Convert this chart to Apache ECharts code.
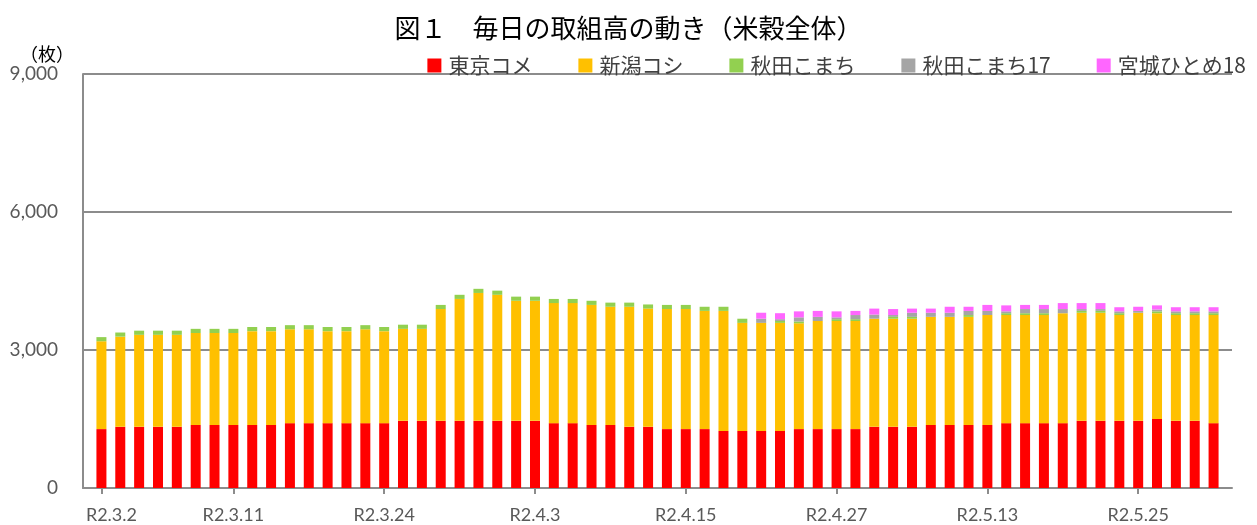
<!DOCTYPE html>
<html>
<head>
<meta charset="utf-8">
<script src="https://cdn.jsdelivr.net/npm/echarts@6/dist/echarts.min.js"></script>
<style>
  html, body { margin: 0; padding: 0; background: #fff; }
  #main { width: 1257px; height: 525px; }
</style>
</head>
<body>
<div id="main"></div>
<script>
// 取引日（R2.3.2 〜 R2.5.29）
const dates = [
    'R2.3.2', 'R2.3.3', 'R2.3.4', 'R2.3.5', 'R2.3.6', 'R2.3.9', 'R2.3.10', 'R2.3.11', 'R2.3.12', 'R2.3.13',
    'R2.3.16', 'R2.3.17', 'R2.3.18', 'R2.3.19', 'R2.3.23', 'R2.3.24', 'R2.3.25', 'R2.3.26', 'R2.3.27', 'R2.3.30',
    'R2.3.31', 'R2.4.1', 'R2.4.2', 'R2.4.3', 'R2.4.6', 'R2.4.7', 'R2.4.8', 'R2.4.9', 'R2.4.10', 'R2.4.13',
    'R2.4.14', 'R2.4.15', 'R2.4.16', 'R2.4.17', 'R2.4.20', 'R2.4.21', 'R2.4.22', 'R2.4.23', 'R2.4.24', 'R2.4.27',
    'R2.4.28', 'R2.4.30', 'R2.5.1', 'R2.5.7', 'R2.5.8', 'R2.5.11', 'R2.5.12', 'R2.5.13', 'R2.5.14', 'R2.5.15',
    'R2.5.18', 'R2.5.19', 'R2.5.20', 'R2.5.21', 'R2.5.22', 'R2.5.25', 'R2.5.26', 'R2.5.27', 'R2.5.28', 'R2.5.29'
];
// 目盛りラベルを出す日
const labelDates = ['R2.3.2', 'R2.3.11', 'R2.3.24', 'R2.4.3', 'R2.4.15', 'R2.4.27', 'R2.5.13', 'R2.5.25'];
// 縦軸の目盛り
const yTicks = [0, 3000, 6000, 9000];

const seriesNames = ['東京コメ', '新潟コシ', '秋田こまち', '秋田こまち17', '宮城ひとめ18'];

const tokyo = [
    1280, 1330, 1330, 1330, 1330, 1370, 1370, 1370, 1370, 1370,
    1410, 1410, 1410, 1410, 1410, 1410, 1460, 1460, 1460, 1460,
    1460, 1460, 1460, 1460, 1410, 1410, 1370, 1370, 1330, 1330,
    1280, 1280, 1280, 1240, 1240, 1240, 1240, 1280, 1280, 1280,
    1280, 1330, 1330, 1330, 1370, 1370, 1370, 1370, 1410, 1410,
    1410, 1410, 1460, 1460, 1460, 1460, 1500, 1460, 1460, 1410
];
const niigata = [
    1910, 1960, 2000, 2000, 2000, 2000, 2000, 2000, 2040, 2040,
    2040, 2040, 2000, 2000, 2040, 2000, 2000, 2000, 2430, 2650,
    2780, 2740, 2610, 2610, 2610, 2610, 2610, 2570, 2610, 2570,
    2610, 2610, 2570, 2610, 2350, 2350, 2350, 2300, 2350, 2350,
    2350, 2350, 2350, 2350, 2350, 2350, 2350, 2390, 2350, 2350,
    2350, 2390, 2350, 2350, 2300, 2350, 2300, 2300, 2300, 2350
];
const akita = [
    90, 90, 90, 90, 90, 90, 90, 90, 90, 90,
    90, 90, 90, 90, 90, 90, 90, 90, 90, 90,
    90, 90, 90, 90, 90, 90, 90, 90, 90, 90,
    90, 90, 90, 90, 90, 0, 40, 40, 0, 40,
    40, 0, 40, 40, 0, 0, 40, 0, 40, 40,
    40, 0, 40, 40, 40, 0, 40, 40, 40, 40
];
const akita17 = [
    0, 0, 0, 0, 0, 0, 0, 0, 0, 0,
    0, 0, 0, 0, 0, 0, 0, 0, 0, 0,
    0, 0, 0, 0, 0, 0, 0, 0, 0, 0,
    0, 0, 0, 0, 0, 90, 40, 90, 90, 40,
    90, 90, 40, 90, 90, 90, 90, 90, 40, 90,
    90, 90, 40, 40, 40, 40, 40, 40, 40, 40
];
const miyagi18 = [
    0, 0, 0, 0, 0, 0, 0, 0, 0, 0,
    0, 0, 0, 0, 0, 0, 0, 0, 0, 0,
    0, 0, 0, 0, 0, 0, 0, 0, 0, 0,
    0, 0, 0, 0, 0, 130, 130, 130, 130, 130,
    90, 130, 130, 90, 90, 130, 90, 130, 130, 90,
    90, 130, 130, 130, 90, 90, 90, 90, 90, 90
];

const colors = ['#FF0000', '#FFC000', '#92D050', '#A5A5A5', '#FF66FF'];
const values = [tokyo, niigata, akita, akita17, miyagi18];

const chart = echarts.init(document.getElementById('main'));

const axisGray = '#8C8C8C';
const labelGray = '#595959';
const numFont = 'Lato, "Noto Sans CJK JP", sans-serif';
const jpFont = '"Noto Sans CJK JP", sans-serif';

// ラベル位置だけ目盛りを出す
const showLabel = function (index, value) {
    return labelDates.indexOf(value) >= 0;
};

const yMin = yTicks[0];
const yMax = yTicks[yTicks.length - 1];
const yStep = yTicks[1] - yTicks[0];

let option = {
    animation: false,
    backgroundColor: '#fff',
    color: colors,
    title: {
        text: '図１　毎日の取組高の動き（米穀全体）',
        left: 'center',
        top: 10,
        textStyle: {
            fontFamily: jpFont,
            fontSize: 26,
            fontWeight: 'normal',
            color: '#000'
        }
    },
    legend: {
        data: seriesNames,
        right: 6,
        top: 50,
        icon: 'rect',
        itemWidth: 14,
        itemHeight: 14,
        itemGap: 46,
        textStyle: {
            fontFamily: jpFont,
            fontSize: 21,
            color: '#404040',
            padding: [0, 0, 0, 2]
        }
    },
    // grid 0: 枠線・目盛り線用, grid 1: 棒グラフ用（端に少し余白）
    grid: [
        { left: 83, right: 25, top: 74, bottom: 37 },
        { left: 92, right: 34, top: 74, bottom: 37 }
    ],
    xAxis: [
        {
            type: 'value',
            gridIndex: 0,
            min: 0,
            max: 1,
            axisLine: { show: true, onZero: false, lineStyle: { color: axisGray, width: 2 } },
            axisTick: { show: false },
            axisLabel: { show: false },
            splitLine: { show: false }
        },
        {
            type: 'category',
            gridIndex: 1,
            data: dates,
            axisLine: { show: false },
            axisTick: {
                show: true,
                alignWithLabel: true,
                interval: showLabel,
                length: 6,
                lineStyle: { color: axisGray, width: 2 }
            },
            axisLabel: {
                interval: showLabel,
                margin: 18,
                fontFamily: numFont,
                fontSize: 18,
                color: labelGray,
                formatter: function (value) {
                    if (value === dates[0]) {
                        return '{first|' + value + '}';
                    }
                    return value;
                },
                rich: {
                    first: {
                        fontFamily: numFont,
                        fontSize: 18,
                        color: labelGray,
                        padding: [0, 0, 0, 20]
                    }
                }
            }
        }
    ],
    yAxis: [
        {
            type: 'value',
            gridIndex: 0,
            min: yMin,
            max: yMax,
            interval: yStep,
            name: '（枚）',
            nameLocation: 'end',
            nameGap: 11,
            nameTextStyle: {
                fontFamily: jpFont,
                fontSize: 18,
                color: '#000',
                align: 'right',
                padding: [0, 9, 0, 0]
            },
            axisLine: { show: true, lineStyle: { color: axisGray, width: 2 } },
            axisTick: { show: false },
            axisLabel: {
                margin: 25,
                fontFamily: numFont,
                fontSize: 19,
                color: labelGray,
                formatter: function (v) {
                    return v.toLocaleString('en-US');
                }
            },
            splitLine: { lineStyle: { color: axisGray, width: 2 } }
        },
        {
            type: 'value',
            gridIndex: 1,
            min: yMin,
            max: yMax,
            interval: yStep,
            show: false
        }
    ],
    series: seriesNames.map(function (name, i) {
        return {
            name: name,
            type: 'bar',
            stack: 'total',
            xAxisIndex: 1,
            yAxisIndex: 1,
            barWidth: 10,
            data: values[i],
            itemStyle: { color: colors[i] }
        };
    })
};

chart.setOption(option);
</script>
</body>
</html>
